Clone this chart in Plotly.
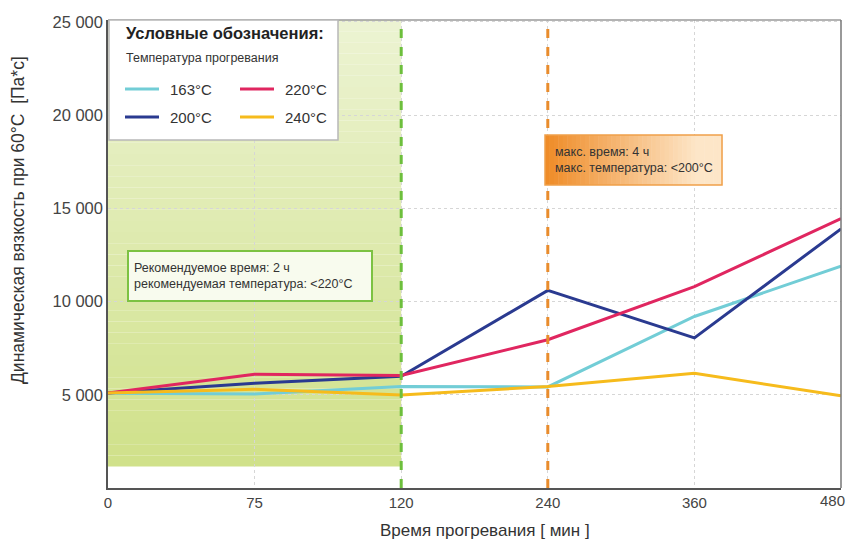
import plotly.graph_objects as go

# Heating time (minutes) and dynamic viscosity at 60°C for each heating temperature
times = ["0", "75", "120", "240", "360", "480"]
visc_163 = [5080, 5040, 5450, 5420, 9200, 11900]
visc_200 = [5100, 5620, 5990, 10600, 8050, 13900]
visc_220 = [5100, 6100, 6030, 7950, 10800, 14450]
visc_240 = [5100, 5300, 4990, 5440, 6150, 4940]

series_names = ["163°C", "200°C", "220°C", "240°C"]
series_values = [visc_163, visc_200, visc_220, visc_240]
series_colors = ["#72cdd6", "#2a3a90", "#e02660", "#f6bb1c"]

y_ticks = [5000, 10000, 15000, 20000, 25000]
y_ticktext = ["5 000", "10 000", "15 000", "20 000", "25 000"]

FONT = "Liberation Sans, Arial, sans-serif"
TICK_FONT = dict(family=FONT, size=15, color="#444")

W, H = 848, 542
L, R, T, B = 108, 7, 20, 54
PW, PH = W - L - R, H - T - B


def px(X):
    return (X - L) / PW


def py(Y):
    return (H - B - Y) / PH


xi = list(range(len(times)))

fig = go.Figure()
for name, vals, col in zip(series_names, series_values, series_colors):
    fig.add_trace(go.Scatter(x=xi, y=vals, mode="lines", name=name,
                             line=dict(color=col, width=3), showlegend=False))

shapes = []

# recommended zone: vertical gradient from pale to yellow-green
top_c = (236, 243, 210)
bot_c = (208, 225, 138)
y_lo, y_hi = 1150, 25100
n = 40
for k in range(n):
    t = k / (n - 1)
    c = tuple(round(top_c[i] + (bot_c[i] - top_c[i]) * t) for i in range(3))
    y1 = y_hi - (y_hi - y_lo) * k / n
    y0 = y_hi - (y_hi - y_lo) * (k + 1) / n
    shapes.append(dict(type="rect", xref="x", yref="y", x0=0, x1=2, y0=y0, y1=y1,
                       fillcolor="rgb(%d,%d,%d)" % c, line=dict(width=0), layer="below"))

# limit lines at 2 h and 4 h
shapes.append(dict(type="line", xref="x", yref="paper", x0=2, x1=2, y0=0, y1=1,
                   line=dict(color="#6dbf3c", width=3, dash="dash"), layer="above"))
shapes.append(dict(type="line", xref="x", yref="paper", x0=3, x1=3, y0=0, y1=1,
                   line=dict(color="#e98c2c", width=3, dash="dash"), layer="above"))

# top and right frame
shapes.append(dict(type="line", xref="paper", yref="paper", x0=0, x1=1, y0=1, y1=1,
                   line=dict(color="#9a9a9a", width=1.5)))
shapes.append(dict(type="line", xref="paper", yref="paper", x0=1, x1=1, y0=0, y1=1,
                   line=dict(color="#777777", width=1.5)))

# orange note box with horizontal gradient
ob_x0, ob_x1, ob_y0, ob_y1 = 545, 722, 135, 185
left_c = (239, 140, 40)
right_c = (253, 230, 200)
m = 40
for k in range(m):
    t = min(1.0, (k / (m - 1)) * 1.15)
    c = tuple(round(left_c[i] + (right_c[i] - left_c[i]) * t) for i in range(3))
    xa = ob_x0 + (ob_x1 - ob_x0) * k / m
    xb = ob_x0 + (ob_x1 - ob_x0) * (k + 1) / m + 0.5
    shapes.append(dict(type="rect", xref="paper", yref="paper", x0=px(xa), x1=px(xb),
                       y0=py(ob_y1), y1=py(ob_y0), fillcolor="rgb(%d,%d,%d)" % c,
                       line=dict(width=0), layer="above"))
shapes.append(dict(type="rect", xref="paper", yref="paper", x0=px(ob_x0), x1=px(ob_x1),
                   y0=py(ob_y1), y1=py(ob_y0), line=dict(color="#f0a04a", width=1.5),
                   layer="above"))

# legend box
lb_x0, lb_x1, lb_y0, lb_y1 = 109, 338, 20, 140
shapes.append(dict(type="rect", xref="paper", yref="paper", x0=px(lb_x0), x1=px(lb_x1),
                   y0=py(lb_y1), y1=py(lb_y0), fillcolor="white",
                   line=dict(color="#b8b8b8", width=1.5), layer="above"))

annotations = []
annotations.append(dict(xref="paper", yref="paper", x=px(124), y=py(33), xanchor="left",
                        yanchor="middle", showarrow=False, text="<b>Условные обозначения:</b>",
                        font=dict(family=FONT, size=16.5, color="#222")))
annotations.append(dict(xref="paper", yref="paper", x=px(124), y=py(58), xanchor="left",
                        yanchor="middle", showarrow=False, text="Температура прогревания",
                        font=dict(family=FONT, size=12.5, color="#333")))

legend_pos = {"163°C": (125, 89), "220°C": (240, 89), "200°C": (125, 117), "240°C": (240, 117)}
for name, col in zip(series_names, series_colors):
    lx, ly = legend_pos[name]
    shapes.append(dict(type="line", xref="paper", yref="paper", x0=px(lx), x1=px(lx + 34),
                       y0=py(ly), y1=py(ly), line=dict(color=col, width=3), layer="above"))
    annotations.append(dict(xref="paper", yref="paper", x=px(lx + 43), y=py(ly),
                            xanchor="left", yanchor="middle", showarrow=False, text=name,
                            font=dict(family=FONT, size=15, color="#333")))

# recommendation note
annotations.append(dict(xref="paper", yref="paper", x=px(250), y=py(276), xanchor="center",
                        yanchor="middle", showarrow=False, align="left",
                        text="Рекомендуемое время: 2 ч<br>рекомендуемая температура: &lt;220°C",
                        font=dict(family=FONT, size=12.5, color="#333"),
                        bgcolor="#f8fbee", bordercolor="#7cc242", borderwidth=2,
                        borderpad=5, width=232, height=38))
# limit note
annotations.append(dict(xref="paper", yref="paper", x=px(553), y=py(160), xanchor="left",
                        yanchor="middle", showarrow=False, align="left",
                        text="макс. время: 4 ч<br>макс. температура: &lt;200°C",
                        font=dict(family=FONT, size=12.5, color="#333")))

# last x tick label sits flush with the right edge
annotations.append(dict(xref="x", yref="paper", x=xi[-1], y=0, xanchor="right",
                        yanchor="top", yshift=-2, xshift=6, showarrow=False,
                        text=times[-1], font=TICK_FONT))

# axis titles
annotations.append(dict(xref="paper", yref="paper", x=px(18), y=py(220), xanchor="center",
                        yanchor="middle", showarrow=False, textangle=-90,
                        text="Динамическая вязкость при 60°C  [Па*c]",
                        font=dict(family=FONT, size=17.5, color="#333")))
annotations.append(dict(xref="paper", yref="paper", x=px(485), y=py(530), xanchor="center",
                        yanchor="middle", showarrow=False, text="Время прогревания [ мин ]",
                        font=dict(family=FONT, size=17, color="#333")))

fig.update_layout(
    width=W, height=H,
    margin=dict(l=L, r=R, t=T, b=B, autoexpand=False),
    paper_bgcolor="white", plot_bgcolor="white",
    shapes=shapes, annotations=annotations,
    showlegend=False,
    xaxis=dict(range=[0, 5], tickvals=xi[:-1], ticktext=times[:-1], showgrid=True,
               gridcolor="#d6d6d6", griddash="dot", gridwidth=1, zeroline=False,
               showline=True, linecolor="#555", linewidth=1.5,
               automargin=False, ticks="", tickfont=TICK_FONT),
    yaxis=dict(range=[0, 25100], tickvals=y_ticks, ticktext=y_ticktext, showgrid=True,
               gridcolor="#d6d6d6", griddash="dot", gridwidth=1, zeroline=False,
               showline=True, linecolor="#555", linewidth=1.5, automargin=False,
               ticks="", ticklen=0, tickfont=dict(family=FONT, size=16.5, color="#444")),
)

fig.write_html("out.html")
